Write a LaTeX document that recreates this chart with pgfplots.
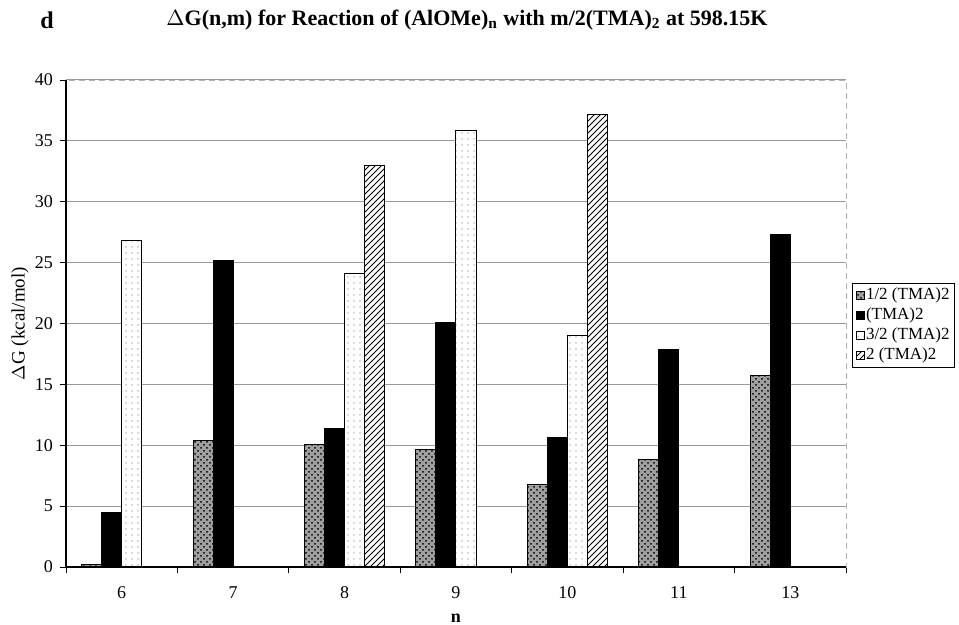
\documentclass[border=0pt]{standalone}
\usepackage{pgfplots}
\pgfplotsset{compat=1.18}
\usetikzlibrary{patterns}
\usepackage{fontspec}
\setmainfont{Liberation Serif}
\pgfplotsset{sq/.style={legend image code/.code={\draw[##1, line width=0.4pt] (0pt,-2pt) rectangle (4pt,2pt);}}}
\begin{document}
\begin{tikzpicture}
\begin{axis}[
  name=ax,
  scale only axis, width=390pt, height=243.5pt,
  xmin=-0.5, xmax=6.5, ymin=0, ymax=40,
  xtick={0,...,6}, xticklabels={6,7,8,9,10,11,13},
  major x tick style={draw=none},
  minor xtick={-0.5,0.5,...,6.5},
  ytick={0,5,...,40},
  tick pos=left, tick align=outside,
  major tick length=3pt, minor tick length=3pt,
  tick style={black, line width=0.4pt},
  ymajorgrids, grid style={gray!80, line width=0.5pt},
  axis line style={gray!60, line width=0.4pt, densely dashed},
  /pgf/number format/assume math mode=true,
  ticklabel style={font=\fontsize{9}{10}\selectfont},
  xticklabel style={font=\fontsize{9}{10}\selectfont, text height=6.5pt, text depth=0pt, yshift=-2.5pt},
  ylabel={$\Delta$G (kcal/mol)},
  ylabel style={font=\fontsize{9.5}{11}\selectfont, at={(-0.059,0.5)}, anchor=center},
  xlabel={\textbf{n}},
  xlabel style={font=\fontsize{9}{10}\selectfont, at={(0.5,-0.105)}, anchor=center},
  legend style={at={(1.008,0.583)}, anchor=north west, draw=black, line width=0.4pt,
    font=\fontsize{8.5}{9.5}\selectfont, inner sep=1.5pt, row sep=1pt,
    nodes={inner sep=0.8pt}},
  legend cell align=left,
  ybar, bar width=0.18,
]
\addplot[ybar, sq, bar shift=-0.27, draw=black, line width=0.5pt, fill=gray!75,
  postaction={pattern=crosshatch dots, pattern color=black}]
  coordinates {(0,0.2)(1,10.35)(2,10.05)(3,9.65)(4,6.8)(5,8.85)(6,15.7)};
\addlegendentry{1/2 (TMA)2}
\addplot[ybar, sq, bar shift=-0.09, draw=black, line width=0.5pt, fill=black]
  coordinates {(0,4.45)(1,25.2)(2,11.35)(3,20.1)(4,10.6)(5,17.9)(6,27.35)};
\addlegendentry{(TMA)2}
\addplot[ybar, sq, bar shift=0.09, draw=black, line width=0.5pt, fill=white,
  postaction={pattern=dots, pattern color=gray!45}]
  coordinates {(0,26.85)(2,24.1)(3,35.85)(4,19.0)};
\addlegendentry{3/2 (TMA)2}
\addplot[ybar, sq, bar shift=0.27, draw=black, line width=0.5pt, fill=white,
  postaction={pattern=north east lines, pattern color=black}]
  coordinates {(2,33.0)(4,37.15)};
\addlegendentry{2 (TMA)2}
\end{axis}
\draw[black, line width=0.6pt] (ax.north west) -- (ax.south west) -- (ax.south east);
\node[font=\fontsize{11}{12}\selectfont\bfseries] at (200.5pt,273.5pt)
  {$\Delta$G(n,m) for Reaction of (AlOMe)\textsubscript{n} with m/2(TMA)\textsubscript{2} at 598.15K};
\node[font=\fontsize{12}{14}\selectfont\bfseries] at (-9.5pt,273.5pt) {d};
\pgfresetboundingbox
\useasboundingbox (-33pt,-29pt) rectangle (446.5pt,283.5pt);
\end{tikzpicture}
\end{document}
